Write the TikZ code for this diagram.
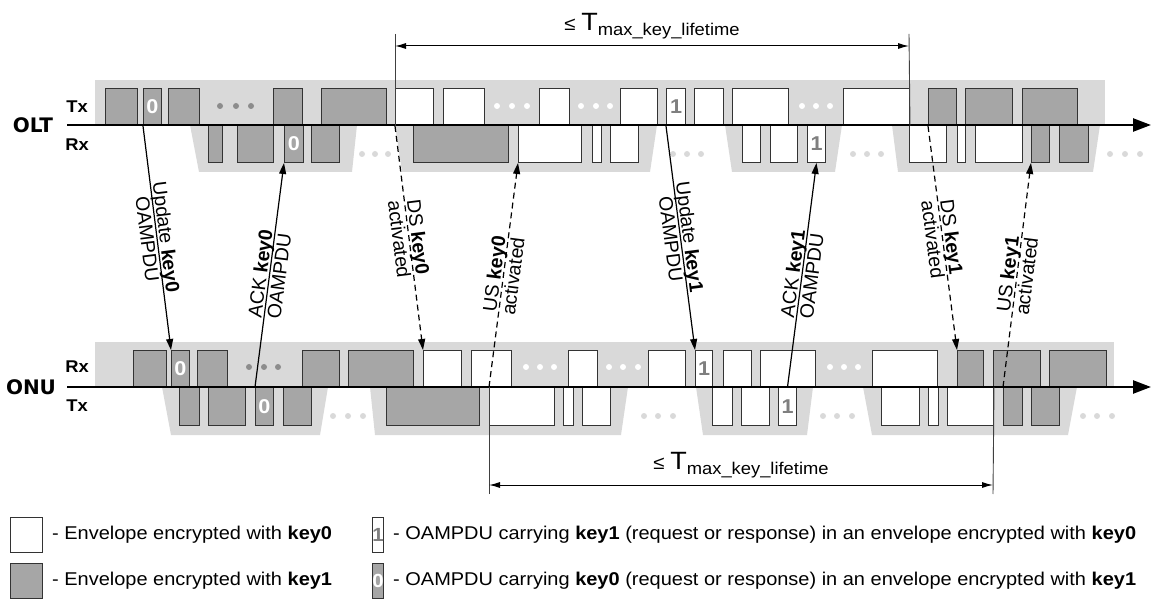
\documentclass[tikz,border=0pt]{standalone}
\usepackage{fontspec}
\setmainfont{Liberation Sans}[FakeStretch=1.08]
\newfontfamily\rotfont{Liberation Sans}
\newfontfamily\heavyfont{DejaVu Sans}
\usetikzlibrary{arrows.meta,positioning,calc}
\definecolor{keyone}{HTML}{A6A6A6}
\definecolor{band}{HTML}{D9D9D9}
\definecolor{edge}{HTML}{333333}
\definecolor{dotdark}{HTML}{8C8C8C}
\definecolor{digitgray}{HTML}{7F7F7F}
\tikzset{
  env/.style={draw=edge, line width=1pt, inner sep=0pt, anchor=north west},
  envzero/.style={env, fill=white},
  envone/.style={env, fill=keyone},
  digzero/.style={font=\fontsize{20}{22}\selectfont\bfseries, text=white, inner sep=0pt},
  digone/.style={font=\fontsize{20}{22}\selectfont\bfseries, text=digitgray, inner sep=0pt},
  timeaxis/.style={line width=2.4pt, -{Triangle[length=18pt,width=13pt]}},
  msg/.style={line width=1.2pt, -{Triangle[length=11pt,width=7pt]}},
  actline/.style={msg, dash pattern=on 6pt off 4pt},
  bracketline/.style={line width=0.9pt, black!75},
  lifespan/.style={line width=1pt, {Latex[length=11pt,width=6pt]}-{Latex[length=11pt,width=6pt]}},
  lbl/.style={font=\rotfont\fontsize{19.5}{19}\selectfont, align=center, sloped, midway, inner sep=0pt},
  station/.style={font=\heavyfont\fontsize{20}{22}\selectfont\bfseries},
  dir/.style={font=\fontsize{17}{18}\selectfont\bfseries},
  legtext/.style={font=\fontsize{18.5}{20}\selectfont, inner sep=0pt}
}
\newcommand{\lifetime}{{\fontsize{19}{20}\selectfont ≤ }{\fontsize{25}{28}\selectfont T}{\fontsize{17}{18}\selectfont\raisebox{-5pt}{max\_key\_lifetime}}}

\begin{document}
\begin{tikzpicture}[x=1pt, y=-1pt]
\useasboundingbox (0,0) rectangle (1151,601);

% shaded bands
\fill[band] (95,80) rectangle (1105,125);
\foreach \a/\b/\c/\d in {190/357/352/199, 395/657/650/402, 725/842/835/732, 892/1100/1093/898}
  \fill[band] (\a,125) -- (\b,125) -- (\c,172) -- (\d,172) -- cycle;
\fill[band] (95,342) rectangle (1114,387);
\foreach \a/\b/\c/\d in {162/328/320/171, 370/628/621/375, 696/813/807/703, 863/1077/1068/872}
  \fill[band] (\a,387) -- (\b,387) -- (\c,435) -- (\d,435) -- cycle;

% OLT envelopes
\foreach \a/\b/\s/\n in {105/137/envone/otx1, 143/161/envone/otx2, 168/199/envone/otx3,
    273/302/envone/otx4, 321/386/envone/otx5, 395/433/envzero/otx6, 443/484/envzero/otx7,
    539/569/envzero/otx8, 620/657/envzero/otx9, 666/685/envzero/otx10, 694/723/envzero/otx11,
    732/788/envzero/otx12, 843/909/envzero/otx13, 928/956/envone/otx14, 965/1012/envone/otx15,
    1022/1077/envone/otx16}{
  \pgfmathsetmacro\w{\b-\a}
  \node[\s, minimum width=\w pt, minimum height=37pt] (\n) at (\a,88) {};
}
\foreach \a/\b/\s/\n in {208/222/envone/orx1, 237/273/envone/orx2, 284/303/envone/orx3,
    311/339/envone/orx4, 413/508/envone/orx5, 518/581/envzero/orx6, 592/601/envzero/orx7,
    610/638/envzero/orx8, 742/760/envzero/orx9, 770/797/envzero/orx10, 807/825/envzero/orx11,
    909/946/envzero/orx12, 957/965/envzero/orx13, 975/1022/envzero/orx14, 1031/1049/envone/orx15,
    1059/1088/envone/orx16}{
  \pgfmathsetmacro\w{\b-\a}
  \node[\s, minimum width=\w pt, minimum height=37pt] (\n) at (\a,125) {};
}

% ONU envelopes
\foreach \a/\b/\s/\n in {133/166/envone/nrx1, 171/189/envone/nrx2, 197/227/envone/nrx3,
    302/339/envone/nrx4, 348/413/envone/nrx5, 423/461/envzero/nrx6, 471/511/envzero/nrx7,
    568/597/envzero/nrx8, 648/685/envzero/nrx9, 695/712/envzero/nrx10, 723/751/envzero/nrx11,
    760/815/envzero/nrx12, 872/937/envzero/nrx13, 957/983/envone/nrx14, 993/1040/envone/nrx15,
    1049/1106/envone/nrx16}{
  \pgfmathsetmacro\w{\b-\a}
  \node[\s, minimum width=\w pt, minimum height=37pt] (\n) at (\a,350) {};
}
\foreach \a/\b/\s/\n in {179/199/envone/ntx1, 208/245/envone/ntx2, 255/273/envone/ntx3,
    283/311/envone/ntx4, 386/479/envone/ntx5, 489/554/envzero/ntx6, 563/573/envzero/ntx7,
    582/610/envzero/ntx8, 712/732/envzero/ntx9, 741/769/envzero/ntx10, 778/796/envzero/ntx11,
    881/919/envzero/ntx12, 928/938/envzero/ntx13, 947/993/envzero/ntx14, 1003/1022/envone/ntx15,
    1031/1059/envone/ntx16}{
  \pgfmathsetmacro\w{\b-\a}
  \node[\s, minimum width=\w pt, minimum height=38pt] (\n) at (\a,387) {};
}

% key digits
\node[digzero] (otx2d) at (otx2.center) {0};
\node[digzero] (orx3d) at (orx3.center) {0};
\node[digzero] (nrx2d) at (nrx2.center) {0};
\node[digzero] (ntx3d) at (ntx3.center) {0};
\node[digone] (otx10d) at (otx10.center) {1};
\node[digone] (orx11d) at (orx11.center) {1};
\node[digone] (nrx10d) at (nrx10.center) {1};
\node[digone] (ntx11d) at (ntx11.center) {1};

% ellipses
\foreach \x in {220,236,251} \fill[dotdark] (\x,106) circle (3pt);
\foreach \x in {497,512,527,581,596,610,802,816,830} \fill[white] (\x,106) circle (3pt);
\foreach \x in {362,375,388,673,687,701,853,867,881,1110,1125,1140} \fill[band] (\x,154) circle (3pt);
\foreach \x in {249,264,278} \fill[dotdark] (\x,367) circle (3pt);
\foreach \x in {526,540,554,609,623,638,830,844,858} \fill[white] (\x,367) circle (3pt);
\foreach \x in {333,348,363,644,658,673,823,837,852,1083,1097,1112} \fill[band] (\x,416) circle (3pt);

% time axes
\coordinate (oltstart) at (67,125);
\coordinate (oltend) at (1151,125);
\coordinate (onustart) at (67,387);
\coordinate (onuend) at (1151,387);
\draw[timeaxis] (oltstart) -- (oltend);
\draw[timeaxis] (onustart) -- (onuend);

\node[station] (olt) at (33,125) {OLT};
\node[station] (onu) at (31,387) {ONU};
\node[dir] (olttx) at (77,107) {Tx};
\node[dir] (oltrx) at (77,145) {Rx};
\node[dir] (onurx) at (77,367) {Rx};
\node[dir] (onutx) at (77,406) {Tx};

% key exchange
\draw[msg] (otx2.south west) -- (nrx2.north west) node[lbl] {Update \textbf{key0}\\OAMPDU};
\draw[msg] (ntx3.north west) -- (orx3.south west) node[lbl] {ACK \textbf{key0}\\OAMPDU};
\draw[actline] (otx6.south west) -- (nrx6.north west) node[lbl] {DS \textbf{key0}\\activated};
\draw[actline] (ntx6.north west) -- (orx6.south west) node[lbl] {US \textbf{key0}\\activated};
\draw[msg] (otx10.south west) -- (nrx10.north west) node[lbl] {Update \textbf{key1}\\OAMPDU};
\draw[msg] (ntx11.north) -- (orx11.south) node[lbl] {ACK \textbf{key1}\\OAMPDU};
\draw[actline] (otx14.south west) -- (nrx14.north west) node[lbl] {DS \textbf{key1}\\activated};
\draw[actline] (ntx15.north west) -- (orx15.south west) node[lbl] {US \textbf{key1}\\activated};

% key lifetime
\coordinate (dsfrom) at (395,34);
\coordinate (dsto) at (909,34);
\draw[bracketline] (dsfrom) -- (otx6.south west);
\draw[bracketline] (dsto) -- (otx13.south east);
\draw[lifespan] ($(dsfrom)+(0,12)$) -- ($(dsto)+(0,12)$) node[midway, above=3pt] (dslife) {\lifetime};
\coordinate (usfrom) at (489,494);
\coordinate (usto) at (993,494);
\draw[bracketline] (usfrom) -- (ntx6.north west);
\draw[bracketline] (usto) -- (ntx14.north east);
\draw[lifespan] ($(usfrom)+(0,-9)$) -- ($(usto)+(0,-9)$) node[midway, above=3pt] (uslife) {\lifetime};

% legend
\node[envzero, minimum width=32pt, minimum height=35pt] (legzero) at (10,517) {};
\node[envone, minimum width=32pt, minimum height=35pt] (legone) at (10,563) {};
\node[legtext, right=9pt of legzero] (legzerot) {- Envelope encrypted with \textbf{key0}};
\node[legtext, right=9pt of legone] (legonet) {- Envelope encrypted with \textbf{key1}};
\node[envzero, minimum width=11pt, minimum height=35pt] (legdone) at (372,517) {};
\node[envone, minimum width=11pt, minimum height=35pt] (legdzero) at (372,563) {};
\node[digone, font=\fontsize{19}{20}\selectfont\bfseries] (legdonet) at (legdone.center) {1};
\node[digzero, font=\fontsize{19}{20}\selectfont\bfseries] (legdzerot) at (legdzero.center) {0};
\node[legtext, right=9pt of legdone] (legdonex) {- OAMPDU carrying \textbf{key1} (request or response) in an envelope encrypted with \textbf{key0}};
\node[legtext, right=9pt of legdzero] (legdzerox) {- OAMPDU carrying \textbf{key0} (request or response) in an envelope encrypted with \textbf{key1}};
\end{tikzpicture}
\end{document}
